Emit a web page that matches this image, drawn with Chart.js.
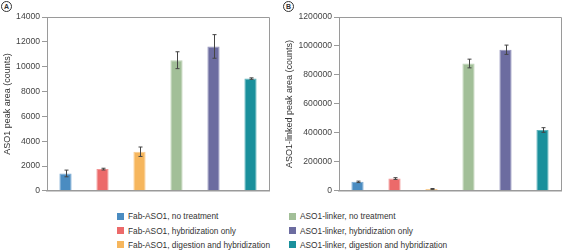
<!DOCTYPE html>
<html>
<head>
<meta charset="utf-8">
<script src="https://cdn.jsdelivr.net/npm/chart.js@4/dist/chart.umd.min.js"></script>
<style>
  html, body { margin: 0; padding: 0; background: #fff; }
  body { width: 564px; height: 251px; position: relative; overflow: hidden; font-family: "Liberation Sans", Arial, sans-serif; }
  .cv { position: absolute; top: 0; }
  .panel { position: absolute; width: 9px; height: 9px; border: 1px solid #333; border-radius: 50%; font-size: 7px; font-weight: bold; line-height: 9px; text-align: center; color: #333; }
  .leg { position: absolute; font-size: 8.3px; color: #333; white-space: nowrap; line-height: 10px; }
  .leg i { position: absolute; left: -11px; top: 1.5px; width: 7px; height: 7px; }
</style>
</head>
<body>
<div class="panel" style="left:1px;top:1px;">A</div>
<div class="panel" style="left:283px;top:1px;">B</div>
<div class="cv" style="left:0;width:282px;height:198px;"><canvas id="cA"></canvas></div>
<div class="cv" style="left:282px;width:282px;height:198px;"><canvas id="cB"></canvas></div>
<div id="legend"></div>
<script>
const categories = [
  "Fab-ASO1, no treatment",
  "Fab-ASO1, hybridization only",
  "Fab-ASO1, digestion and hybridization",
  "ASO1-linker, no treatment",
  "ASO1-linker, hybridization only",
  "ASO1-linker, digestion and hybridization"
];
const colors = ["#4a8cc1", "#ec6a6a", "#f6b65d", "#a2bf98", "#6c6ca0", "#1a909c"];
const borderColors = ["#7aaad3", "#f29595", "#f9cb8d", "#bed3b6", "#9595bd", "#5fb3bb"];

const valuesA = [1400, 1750, 3150, 10520, 11630, 9040];
const errorsA = [270, 70, 380, 680, 950, 60];
const ticksA = [0, 2000, 4000, 6000, 8000, 10000, 12000, 14000];

const valuesB = [62000, 85000, 13000, 879000, 974000, 420000];
const errorsB = [5000, 6000, 3000, 30000, 32000, 16000];
const ticksB = [0, 200000, 400000, 600000, 800000, 1000000, 1200000];

const errorBarPlugin = {
  id: 'errorBars',
  afterDatasetsDraw(chart) {
    const ctx = chart.ctx;
    const meta = chart.getDatasetMeta(0);
    const ds = chart.data.datasets[0];
    const y = chart.scales.y;
    ctx.save();
    ctx.strokeStyle = '#444';
    ctx.lineWidth = 1;
    meta.data.forEach((bar, i) => {
      const v = ds.data[i], e = ds.errors[i];
      const x = Math.round(bar.x) + 0.5;
      const yt = y.getPixelForValue(v + e), yb = y.getPixelForValue(v - e);
      ctx.beginPath();
      ctx.moveTo(x, yt); ctx.lineTo(x, yb);
      ctx.moveTo(x - 2, yt); ctx.lineTo(x + 2, yt);
      ctx.moveTo(x - 2, yb); ctx.lineTo(x + 2, yb);
      ctx.stroke();
    });
    ctx.restore();
  }
};

const framePlugin = {
  id: 'frame',
  afterDraw(chart) {
    const a = chart.chartArea, ctx = chart.ctx;
    ctx.save();
    ctx.strokeStyle = '#9a9a9a';
    ctx.lineWidth = 1;
    ctx.beginPath();
    ctx.moveTo(a.left, a.top + 0.5); ctx.lineTo(a.right + 0.5, a.top + 0.5);
    ctx.lineTo(a.right + 0.5, a.bottom);
    ctx.stroke();
    ctx.restore();
  }
};

function makeChart(id, values, errors, tickVals, max, title, yWidth, padRight) {
  return new Chart(document.getElementById(id), {
    type: 'bar',
    data: {
      labels: categories,
      datasets: [{
        data: values,
        errors: errors,
        backgroundColor: colors,
        borderColor: borderColors,
        borderWidth: 1,
        barPercentage: 1,
        categoryPercentage: 0.33
      }]
    },
    options: {
      responsive: true,
      maintainAspectRatio: false,
      animation: false,
      devicePixelRatio: 1,
      layout: { padding: { top: 17, right: padRight, bottom: 4, left: 0 } },
      plugins: { legend: { display: false }, tooltip: { enabled: false } },
      scales: {
        x: {
          ticks: { display: false },
          grid: { display: false, drawTicks: false },
          border: { display: true, color: '#9a9a9a', width: 1.5 }
        },
        y: {
          min: 0, max: max,
          afterBuildTicks(scale) { scale.ticks = tickVals.map(v => ({ value: v })); },
          afterFit(scale) { scale.width = yWidth; },
          ticks: { color: '#444', font: { family: 'Liberation Sans', size: 8.6 }, padding: 2, callback: v => String(v) },
          grid: { drawOnChartArea: false, drawTicks: true, tickLength: 5, color: '#9a9a9a' },
          border: { display: true, color: '#9a9a9a', width: 1 },
          title: { display: true, text: title, color: '#333', font: { family: 'Liberation Sans', size: 9 }, padding: { top: 2, bottom: 0 } }
        }
      }
    },
    plugins: [errorBarPlugin, framePlugin]
  });
}

makeChart('cA', valuesA, errorsA, ticksA, 14000, 'ASO1 peak area (counts)', 47, 13);
makeChart('cB', valuesB, errorsB, ticksB, 1200000, 'ASO1-linked peak area (counts)', 57, 3);

// legend
const legendPos = [
  [128, 211], [128, 225.5], [128, 239.5],
  [300, 211], [300, 225.5], [300, 239.5]
];
const leg = document.getElementById('legend');
categories.forEach((c, i) => {
  const d = document.createElement('div');
  d.className = 'leg';
  d.style.left = legendPos[i][0] + 'px';
  d.style.top = legendPos[i][1] + 'px';
  d.innerHTML = '<i style="background:' + colors[i] + '"></i>' + c;
  leg.appendChild(d);
});
</script>
</body>
</html>
